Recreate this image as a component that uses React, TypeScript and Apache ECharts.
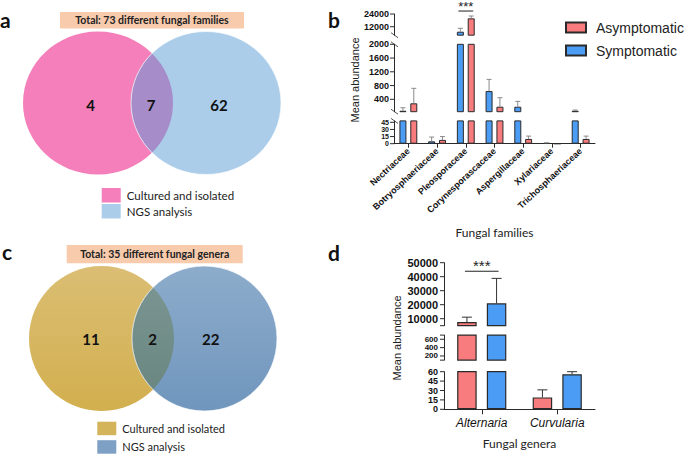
import React, { useEffect, useRef } from 'react';
import * as echarts from 'echarts';

// ---------------- Data ----------------
// Panel a: Venn of fungal families
const vennFamiliesTitle = 'Total: 73 different fungal families';
const vennFamiliesCounts = [4, 7, 62]; // cultured only, shared, NGS only
// Panel c: Venn of fungal genera
const vennGeneraTitle = 'Total: 35 different fungal genera';
const vennGeneraCounts = [11, 2, 22];
const vennLegendLabels = ['Cultured and isolated', 'NGS analysis'];

// Panel b: fungal families (broken y axis)
const familyCategories = [
  'Nectriaceae',
  'Botryosphaeriaceae',
  'Pleosporaceae',
  'Corynesporascaceae',
  'Aspergillaceae',
  'Xylariaceae',
  'Trichosphaeriaceae',
];
const familySymptomatic = [68, 5, 7300, 640, 185, 1, 68];
const familySymptomaticUpper = [155, 14, 10500, 980, 340, 2, 88];
const familyAsymptomatic = [284, 8, 19900, 185, 10, 0, 10];
const familyAsymptomaticUpper = [720, 15, 22100, 447, 16, 0, 16];
const familyTicksTop = [12000, 24000];
const familyTicksMid = [400, 800, 1200, 1600, 2000];
const familyTicksLow = [0, 15, 30, 45];
const familySignificance = { category: 'Pleosporaceae', label: '***', y: 26800 };

// Panel d: fungal genera (broken y axis)
const generaCategories = ['Alternaria', 'Curvularia'];
const generaAsymptomatic = [7600, 19];
const generaAsymptomaticUpper = [11100, 31];
const generaSymptomatic = [21000, 56];
const generaSymptomaticUpper = [38800, 60];
const generaTicksTop = [10000, 20000, 30000, 40000, 50000];
const generaTicksMid = [200, 400, 600];
const generaTicksLow = [0, 15, 30, 45, 60];
const generaSignificance = { category: 'Alternaria', label: '***', y: 43900 };

const seriesNames = ['Asymptomatic', 'Symptomatic'];

// ---------------- Styles / layout ----------------
const RED = '#F87B7D';
const BLUE = '#4A9CF5';
const EDGE = '#2A2A2A';
const SANS = 'Liberation Sans';
const CAL = 'Lato';

const B_LEFT = 394;
const B_WIDTH = 201;
const bSegs = [
  { top: 14, height: 21.2, min: 4000, max: 24000, labels: familyTicksTop, ticks: familyTicksTop, font: 9 },
  { top: 44.3, height: 67.4, min: 40, max: 2000, labels: familyTicksMid, ticks: familyTicksMid, font: 9 },
  { top: 120.9, height: 22.8, min: 0, max: 48, labels: familyTicksLow, ticks: familyTicksLow, font: 7 },
];
const B_BAR = 7;
const B_GAP = 0.55;

const D_LEFT = 444;
const D_WIDTH = 151;
const dSegs = [
  { top: 262.7, height: 63, min: 5000, max: 50000, labels: generaTicksTop, ticks: [5000, ...generaTicksTop], font: 11 },
  { top: 335.1, height: 25.05, min: 100, max: 700, labels: generaTicksMid, ticks: [100, ...generaTicksMid, 700], font: 8 },
  { top: 371.7, height: 37.6, min: 0, max: 60, labels: generaTicksLow, ticks: generaTicksLow, font: 9 },
];
const D_BAR = 19.5;
const D_GAP = 0.52;

// ---------------- Venn helpers ----------------
function lensPath(cx1: number, cx2: number, cy: number, rx: number, ry: number) {
  const mx = (cx1 + cx2) / 2;
  const d = (cx2 - cx1) / 2;
  const dy = ry * Math.sqrt(1 - (d / rx) * (d / rx));
  const t = cy - dy;
  const b = cy + dy;
  return `M${mx} ${t}A${rx} ${ry} 0 0 1 ${mx} ${b}A${rx} ${ry} 0 0 1 ${mx} ${t}Z`;
}

const vennA = { cx1: 98, cx2: 206, cy: 103, rx: 75, ry: 71.5, numX: [90.7, 151, 219], numY: 105 };
const vennC = { cx1: 101.5, cx2: 204.5, cy: 338.5, rx: 72.5, ry: 72.5, numX: [91, 152.7, 210.7], numY: 339 };

echarts.graphic.registerShape(
  'lensA',
  echarts.graphic.extendPath(lensPath(vennA.cx1, vennA.cx2, vennA.cy, vennA.rx, vennA.ry), {}) as any
);
echarts.graphic.registerShape(
  'lensC',
  echarts.graphic.extendPath(lensPath(vennC.cx1, vennC.cx2, vennC.cy, vennC.rx, vennC.ry), {}) as any
);

function vGrad(top: string, bottom: string) {
  return {
    type: 'linear', x: 0, y: 0, x2: 0, y2: 1,
    colorStops: [{ offset: 0, color: top }, { offset: 1, color: bottom }],
  };
}

function vennGraphics(
  g: any,
  lens: string,
  fills: any[],
  counts: number[],
  title: string,
  titleBox: number[],
  legendPos: number[],
  legendColors: string[],
  legendH: number,
  legendStep: number,
  legendFont: number
) {
  const els: any[] = [];
  els.push({
    type: 'rect', shape: { x: titleBox[0], y: titleBox[1], width: titleBox[2], height: titleBox[3] },
    style: { fill: '#F8CBAD' },
  });
  els.push({
    type: 'text', x: titleBox[0] + titleBox[2] / 2, y: titleBox[1] + titleBox[3] / 2,
    style: { text: title, font: `bold 10.5px ${CAL}`, fill: '#222', align: 'center', verticalAlign: 'middle' },
  });
  els.push({ type: 'ellipse', shape: { cx: g.cx1, cy: g.cy, rx: g.rx, ry: g.ry }, style: { fill: fills[0] } });
  els.push({ type: 'ellipse', shape: { cx: g.cx2, cy: g.cy, rx: g.rx, ry: g.ry }, style: { fill: fills[1] } });
  els.push({ type: lens, x: 0, y: 0, scaleX: 1, scaleY: 1, style: { fill: fills[2] } });
  els.push({
    type: 'ellipse', shape: { cx: g.cx2, cy: g.cy, rx: g.rx, ry: g.ry },
    style: { fill: 'none', stroke: 'rgba(255,255,255,0.85)', lineWidth: 0.8 },
  });
  counts.forEach((c, i) => {
    els.push({
      type: 'text', x: g.numX[i], y: g.numY,
      style: { text: String(c), font: `bold 15px ${CAL}`, fill: '#111', align: 'center', verticalAlign: 'middle' },
    });
  });
  vennLegendLabels.forEach((lab, i) => {
    const y = legendPos[1] + i * legendStep;
    els.push({
      type: 'rect', shape: { x: legendPos[0], y, width: 19, height: legendH },
      style: { fill: legendColors[i] },
    });
    els.push({
      type: 'text', x: legendPos[0] + 25, y: y + legendH / 2,
      style: { text: lab, font: `${legendFont}px ${CAL}`, fill: '#222', align: 'left', verticalAlign: 'middle' },
    });
  });
  return els;
}

// ---------------- Series helpers ----------------
function barSeries(name: string, color: string, data: number[], gi: number, w: number, gap: number, bw: number) {
  return {
    type: 'bar', name, data, xAxisIndex: gi, yAxisIndex: gi, barWidth: w, barGap: `${gap * 100}%`,
    itemStyle: { color, borderColor: EDGE, borderWidth: bw }, clip: true, silent: true,
  };
}

function errSeries(vals: number[], ups: number[], gi: number, offset: number, cap: number, color: string, min: number, max: number) {
  return {
    type: 'custom', xAxisIndex: gi, yAxisIndex: gi, silent: true, z: 3,
    data: vals.map((v, i) => [i, v, ups[i]]),
    renderItem: (params: any, api: any) => {
      const idx = api.value(0);
      const v = api.value(1);
      const e = api.value(2);
      if (!(e > v)) return null;
      const lo = Math.max(v, min);
      const hi = Math.min(e, max);
      if (hi <= lo) return null;
      const p0 = api.coord([idx, lo]);
      const p1 = api.coord([idx, hi]);
      const x = p0[0] + offset;
      const children: any[] = [
        { type: 'line', shape: { x1: x, y1: p0[1], x2: x, y2: p1[1] }, style: { stroke: color, lineWidth: 1 } },
      ];
      if (e <= max) {
        children.push({ type: 'line', shape: { x1: x - cap, y1: p1[1], x2: x + cap, y2: p1[1] }, style: { stroke: color, lineWidth: 1 } });
      }
      return { type: 'group', children };
    },
  };
}

function sigSeries(cats: string[], sig: { category: string; label: string; y: number }, gi: number, half: number, font: number, lift: number) {
  return {
    type: 'custom', xAxisIndex: gi, yAxisIndex: gi, silent: true, z: 4, clip: false,
    data: [[cats.indexOf(sig.category), sig.y]],
    renderItem: (params: any, api: any) => {
      const p = api.coord([api.value(0), api.value(1)]);
      return {
        type: 'group',
        children: [
          { type: 'line', shape: { x1: p[0] - half, y1: p[1], x2: p[0] + half, y2: p[1] }, style: { stroke: '#222', lineWidth: 1 } },
          {
            type: 'text', x: p[0], y: p[1] - lift,
            style: { text: sig.label, font: `${font}px ${SANS}`, fill: '#222', align: 'center', verticalAlign: 'top' },
          },
        ],
      };
    },
  };
}

// y-axis ticks and labels drawn through the axis scale so that none is dropped
function tickSeries(gi: number, s: any, margin: number) {
  return {
    type: 'custom', xAxisIndex: gi, yAxisIndex: gi, silent: true, z: 5, clip: false,
    data: s.ticks.map((v: number) => [0, v, s.labels.indexOf(v) >= 0 ? 1 : 0]),
    renderItem: (params: any, api: any) => {
      const v = api.value(1);
      const y = api.coord([0, v])[1];
      const x = params.coordSys.x;
      const children: any[] = [
        { type: 'line', shape: { x1: x - 4, y1: y, x2: x, y2: y }, style: { stroke: EDGE, lineWidth: 1 } },
      ];
      if (api.value(2) === 1) {
        children.push({
          type: 'text', x: x - 4 - margin, y,
          style: {
            text: String(v), font: `bold ${s.font}px ${SANS}`, fill: '#111', align: 'right', verticalAlign: 'middle',
          },
        });
      }
      return { type: 'group', children };
    },
  };
}

function yAxisFor(gi: number, s: any) {
  return {
    gridIndex: gi, type: 'value', min: s.min, max: s.max,
    axisLine: { show: true, lineStyle: { color: EDGE, width: 1 } },
    axisTick: { show: false },
    axisLabel: { show: false },
    splitLine: { show: false },
  };
}

// ---------------- Option ----------------
const grids: any[] = [
  ...bSegs.map((s) => ({ left: B_LEFT, width: B_WIDTH, top: s.top, height: s.height })),
  ...dSegs.map((s) => ({ left: D_LEFT, width: D_WIDTH, top: s.top, height: s.height })),
];

const xAxes: any[] = [
  ...bSegs.map((s, i) => ({
    gridIndex: i, type: 'category', data: familyCategories, show: i === 2,
    axisLine: { show: true, lineStyle: { color: EDGE, width: 1 } },
    axisTick: { show: true, alignWithLabel: true, length: 4, lineStyle: { color: EDGE } },
    axisLabel: { interval: 0, rotate: 43, fontSize: 9, fontWeight: 'bold', fontFamily: SANS, color: '#111', margin: 6, hideOverlap: false },
    name: 'Fungal families', nameLocation: 'middle', nameGap: 83,
    nameTextStyle: { fontFamily: CAL, fontSize: 12, color: '#222' },
  })),
  ...dSegs.map((s, i) => ({
    gridIndex: 3 + i, type: 'category', data: generaCategories, show: i === 2,
    axisLine: { show: true, lineStyle: { color: EDGE, width: 1 } },
    axisTick: { show: true, alignWithLabel: true, length: 5, lineStyle: { color: EDGE } },
    axisLabel: { interval: 0, fontSize: 12, fontStyle: 'italic', fontFamily: SANS, color: '#111', margin: 8 },
    name: 'Fungal genera', nameLocation: 'middle', nameGap: 28,
    nameTextStyle: { fontFamily: CAL, fontSize: 12, color: '#222' },
  })),
];

const yAxes: any[] = [
  ...bSegs.map((s, i) => yAxisFor(i, s)),
  ...dSegs.map((s, i) => yAxisFor(3 + i, s)),
];

const bOff = (B_BAR * (1 + B_GAP)) / 2;
const dOff = (D_BAR * (1 + D_GAP)) / 2;

const series: any[] = [];
bSegs.forEach((s, i) => {
  series.push(barSeries(seriesNames[1], BLUE, familySymptomatic, i, B_BAR, B_GAP, 1));
  series.push(barSeries(seriesNames[0], RED, familyAsymptomatic, i, B_BAR, B_GAP, 1));
  series.push(errSeries(familySymptomatic, familySymptomaticUpper, i, -bOff, 2.5, '#8A8A8A', s.min, s.max));
  series.push(errSeries(familyAsymptomatic, familyAsymptomaticUpper, i, bOff, 2.5, '#8A8A8A', s.min, s.max));
  series.push(tickSeries(i, s, 1));
});
series.push(sigSeries(familyCategories, familySignificance, 0, bOff + 2, 13, 11));
dSegs.forEach((s, i) => {
  const gi = 3 + i;
  series.push(barSeries(seriesNames[0], RED, generaAsymptomatic, gi, D_BAR, D_GAP, 1.2));
  series.push(barSeries(seriesNames[1], BLUE, generaSymptomatic, gi, D_BAR, D_GAP, 1.2));
  series.push(errSeries(generaAsymptomatic, generaAsymptomaticUpper, gi, -dOff, 5, '#333', s.min, s.max));
  series.push(errSeries(generaSymptomatic, generaSymptomaticUpper, gi, dOff, 5, '#333', s.min, s.max));
  series.push(tickSeries(gi, s, 2));
});
series.push(sigSeries(generaCategories, generaSignificance, 3, dOff + 2, 15, 13));

// break marks on panel b y axis
const breakMarks: any[] = [];
bSegs.forEach((s, i) => {
  const ends: number[] = [];
  if (i > 0) ends.push(s.top);
  if (i < bSegs.length - 1) ends.push(s.top + s.height);
  ends.forEach((y) => {
    breakMarks.push({
      type: 'line', shape: { x1: B_LEFT - 3, y1: y - 2.5, x2: B_LEFT + 4, y2: y + 2.5 },
      style: { stroke: '#555', lineWidth: 1 },
    });
  });
});

const letters = [
  { t: 'a', x: 0, y: 19 },
  { t: 'b', x: 328, y: 19 },
  { t: 'c', x: 2, y: 251 },
  { t: 'd', x: 328, y: 252 },
];

const graphics: any[] = [
  ...vennGraphics(
    vennA, 'lensA', ['#F47FBA', '#ABCDEA', '#A68DC9'], vennFamiliesCounts, vennFamiliesTitle,
    [60, 12, 184, 16.5], [101.7, 188], ['#F47FBA', '#ABCDEA'], 14.5, 16, 11.5
  ),
  ...vennGraphics(
    vennC, 'lensC',
    [vGrad('#DBBE74', '#D2AF4E'), vGrad('#8DACCB', '#7096BD'), vGrad('#7A9591', '#6A8782')],
    vennGeneraCounts, vennGeneraTitle,
    [66.7, 245, 176, 18.3], [97.3, 421.7], ['#D4B45A', '#7EA0C4'], 13.5, 18.5, 11
  ),
  ...letters.map((l) => ({
    type: 'text', x: l.x, y: l.y,
    style: { text: l.t, font: `bold 21px ${CAL}`, fill: '#111', align: 'left', verticalAlign: 'middle' },
  })),
  {
    type: 'text', x: 355, y: 80, rotation: Math.PI / 2,
    style: { text: 'Mean abundance', font: `11px ${SANS}`, fill: '#222', align: 'center', verticalAlign: 'middle' },
  },
  {
    type: 'text', x: 397, y: 338, rotation: Math.PI / 2,
    style: { text: 'Mean abundance', font: `11px ${SANS}`, fill: '#222', align: 'center', verticalAlign: 'middle' },
  },
  ...breakMarks,
];

const option: any = {
  animation: false,
  backgroundColor: '#fff',
  grid: grids,
  xAxis: xAxes,
  yAxis: yAxes,
  legend: {
    data: seriesNames,
    orient: 'vertical',
    left: 560,
    top: 15.5,
    itemWidth: 20,
    itemHeight: 10,
    itemGap: 9,
    icon: 'rect',
    selectedMode: false,
    textStyle: { fontFamily: SANS, fontSize: 14, color: '#222', padding: [0, 0, 0, 5] },
  },
  graphic: graphics,
  series,
};

export default function App() {
  const ref = useRef<HTMLDivElement>(null);
  useEffect(() => {
    const chart = echarts.init(ref.current as HTMLDivElement, null, { renderer: 'svg' });
    chart.setOption(option);
    return () => chart.dispose();
  }, []);
  return <div ref={ref} style={{ position: 'absolute', left: 0, top: 0, width: 685, height: 454 }} />;
}
